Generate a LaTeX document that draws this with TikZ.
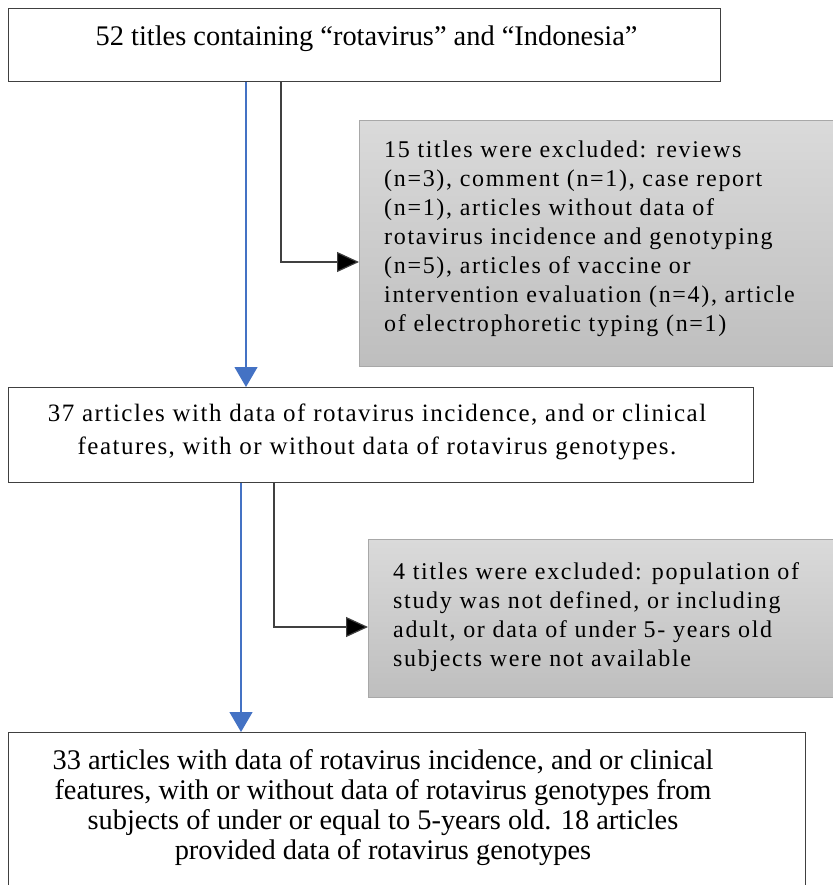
\documentclass[tikz,border=0pt]{standalone}
\usepackage{fontspec}
\setmainfont{Liberation Serif}
\newfontfamily\midfont[LetterSpace=6]{Liberation Serif}
\newfontfamily\grayfont[LetterSpace=7]{Liberation Serif}
\usetikzlibrary{arrows.meta}
\definecolor{boxline}{HTML}{404040}
\definecolor{grayline}{HTML}{A8A8A8}
\definecolor{graytop}{HTML}{DADADA}
\definecolor{graybot}{HTML}{BEBEBE}
\definecolor{flowblue}{HTML}{4472C4}
\tikzset{
  whitebox/.style={draw=boxline, line width=1.3pt, fill=white, inner sep=0pt, anchor=north west},
  graybox/.style={draw=grayline, line width=1pt, top color=graytop, bottom color=graybot, inner sep=0pt, anchor=north west},
  whitetext/.style={inner sep=0pt, align=center, font=\fontsize{28.4}{33}\selectfont},
  graytext/.style={inner sep=0pt, align=left, anchor=west, font=\fontsize{24}{29}\grayfont},
  bluearrow/.style={draw=flowblue, line width=1.2pt, -{Triangle[width=23pt,length=20pt]}},
  blackarrow/.style={draw=boxline, line width=1.2pt, -{Triangle[width=20pt,length=22pt,fill=black]}},
}
\begin{document}
\begin{tikzpicture}[x=1pt,y=-1pt]
\useasboundingbox (0,0) rectangle (832,885);
% boxes
\node[whitebox, minimum width=712pt, minimum height=73pt] (b1) at (8,8) {};
\node[graybox, minimum width=480pt, minimum height=246pt] (g1) at (359,120) {};
\node[whitebox, minimum width=745pt, minimum height=95pt] (b2) at (8,387) {};
\node[graybox, minimum width=480pt, minimum height=158pt] (g2) at (368,539) {};
\node[whitebox, minimum width=797pt, minimum height=170pt] (b3) at (8,732) {};
% texts
\node[whitetext] (t1) at (366.5,39) {52 titles containing “rotavirus” and “Indonesia”};
\node[graytext] (tg1) at (384,239) {15 titles were excluded: reviews\\(n=3), comment (n=1), case report\\(n=1), articles without data of\\rotavirus incidence and genotyping\\(n=5), articles of vaccine or\\intervention evaluation (n=4), article\\of electrophoretic typing (n=1)};
\node[whitetext, font=\fontsize{25}{33}\midfont] (t2) at (377,432) {37 articles with data of rotavirus incidence, and or clinical\\features, with or without data of rotavirus genotypes.};
\node[graytext] (tg2) at (393,617) {4 titles were excluded: population of\\study was not defined, or including\\adult, or data of under 5- years old\\subjects were not available};
\node[whitetext, font=\fontsize{28.4}{30}\selectfont] (t3) at (383,808) {33 articles with data of rotavirus incidence, and or clinical\\features, with or without data of rotavirus genotypes from\\subjects of under or equal to 5-years old. 18 articles\\provided data of rotavirus genotypes};
% connector coordinates
\coordinate (c1) at (246,0);
\coordinate (k1) at (281,262);
\coordinate (c2) at (241,0);
\coordinate (k2) at (274,627);
% connectors
\draw[bluearrow] (b1.south -| c1) -- (b2.north -| c1);
\draw[blackarrow] (b1.south -| k1) |- (k1 -| g1.west);
\draw[bluearrow] (b2.south -| c2) -- (b3.north -| c2);
\draw[blackarrow] (b2.south -| k2) |- (k2 -| g2.west);
\end{tikzpicture}
\end{document}
